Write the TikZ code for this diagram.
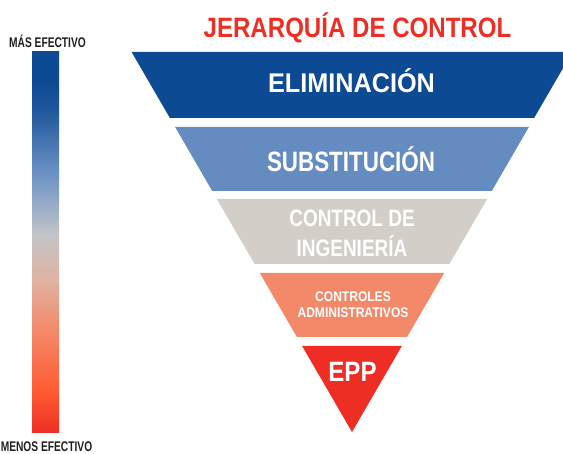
\documentclass[tikz,border=0pt]{standalone}
\usepackage{fontspec}
\setmainfont{Liberation Sans}
\newfontfamily\condA{Liberation Sans}[FakeStretch=0.80]
\newfontfamily\condB{Liberation Sans}[FakeStretch=0.86]
\newfontfamily\condC{Liberation Sans}[FakeStretch=0.935]
\newfontfamily\condD{Liberation Sans}[FakeStretch=0.73]

\definecolor{elimblue}{HTML}{0D4A94}
\definecolor{substblue}{HTML}{658CC1}
\definecolor{ingbeige}{HTML}{D3CEC8}
\definecolor{adminorange}{HTML}{F4896A}
\definecolor{eppred}{HTML}{EE2E24}
\definecolor{sidegray}{HTML}{231F20}

\pgfdeclareverticalshading{effbar}{100bp}{%
  color(0bp)=(eppred); color(25bp)=(eppred);
  color(30.6bp)=(red!60!orange!80!white);
  color(38.5bp)=(adminorange);
  color(45.1bp)=(adminorange!40!ingbeige);
  color(51bp)=(ingbeige!85!substblue);
  color(58.2bp)=(substblue!90!white);
  color(67.4bp)=(elimblue!80!substblue);
  color(71bp)=(elimblue); color(100bp)=(elimblue)}

\begin{document}
\begin{tikzpicture}[x=1pt,y=-1pt]
\clip (0,0) rectangle (563,454);
\tikzset{lbl/.style={text=white, inner sep=0pt, align=center}}
\tikzset{side/.style={text=sidegray, inner sep=0pt, anchor=base,
  font=\condD\bfseries\fontsize{14}{16}\selectfont}}

% left bar
\shade[shading=effbar] (32,52) rectangle (59,433);
\node[side] (mas) at (47.5,48) {MÁS EFECTIVO};
\node[side] (menos) at (46.5,452) {MENOS EFECTIVO};

% inverted pyramid
\foreach \t/\b/\c in {52/118/elimblue, 127/191/substblue,
                      199/264/ingbeige, 273/337/adminorange}
  \fill[\c] ({352-0.58*(432-\t)},\t) -- ({352+0.58*(432-\t)},\t)
    -- ({352+0.58*(432-\b)},\b) -- ({352-0.58*(432-\b)},\b) -- cycle;
\fill[eppred] (302.1,346) -- (401.9,346) -- (352,432) -- cycle;

\node[lbl, text=eppred, anchor=base, font=\condB\bfseries\fontsize{28}{30}\selectfont]
  (title) at (357.5,38) {JERARQUÍA DE CONTROL};
\node[lbl, anchor=base, font=\condC\bfseries\fontsize{27}{30}\selectfont]
  (elim) at (351.5,93) {ELIMINACIÓN};
\node[lbl, anchor=base, font=\condA\bfseries\fontsize{28}{30}\selectfont]
  (subst) at (351,172) {SUBSTITUCIÓN};
\node[lbl, font=\condA\bfseries\fontsize{23.7}{30}\selectfont]
  (ing) at (352,233.5) {CONTROL DE\\INGENIERÍA};
\node[lbl, font=\condB\bfseries\fontsize{14}{16}\selectfont]
  (admin) at (353,305) {CONTROLES\\ADMINISTRATIVOS};
\node[lbl, anchor=base, font=\condB\bfseries\fontsize{28}{30}\selectfont]
  (epp) at (352.5,382) {EPP};
\end{tikzpicture}
\end{document}
